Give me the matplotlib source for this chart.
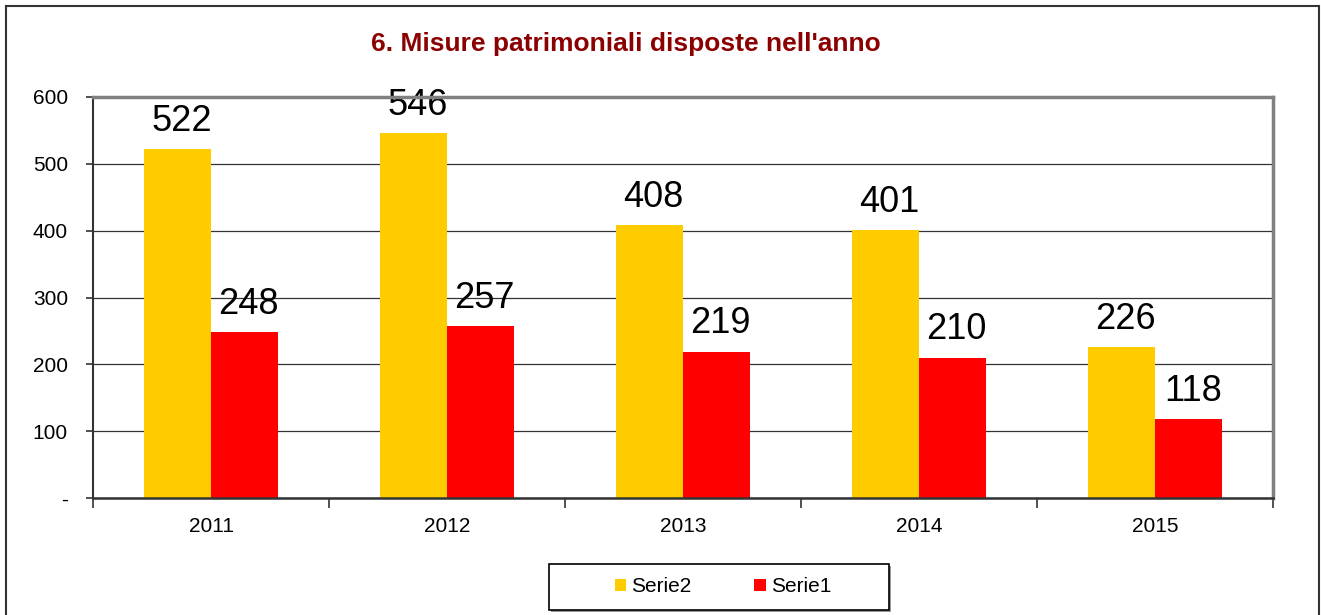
import matplotlib
matplotlib.use("Agg")
import matplotlib.pyplot as plt
from matplotlib.patches import Rectangle
import numpy as np

plt.rcParams['font.family'] = ['Liberation Sans', 'DejaVu Sans']

years = ["2011", "2012", "2013", "2014", "2015"]
serie2 = [522, 546, 408, 401, 226]
serie1 = [248, 257, 219, 210, 118]
yticks = [0, 100, 200, 300, 400, 500, 600]
ytick_labels = ["-", "100", "200", "300", "400", "500", "600"]

W, H = 1321, 615
fig = plt.figure(figsize=(W / 100, H / 100), dpi=100)
fig.patch.set_facecolor("white")

# outer border
fig.add_artist(Rectangle((6 / W, -0.05), (1319 - 6) / W, (615 - 6) / H + 0.05,
                         transform=fig.transFigure, fill=False,
                         edgecolor="#333333", linewidth=1.5))

ax = fig.add_axes([93 / W, (H - 498) / H, (1273 - 93) / W, (498 - 97) / H])
x = np.arange(len(years))
bw = 0.284
b2 = ax.bar(x - bw / 2, serie2, bw, color="#FFCC00", label="Serie2", zorder=3)
b1 = ax.bar(x + bw / 2, serie1, bw, color="#FF0000", label="Serie1", zorder=3)

for rects, vals in ((b2, serie2), (b1, serie1)):
    for r, v in zip(rects, vals):
        ax.annotate(str(v), (r.get_x() + r.get_width() / 2, v),
                    xytext=(3, 7.5), textcoords="offset points",
                    ha="center", va="bottom", fontsize=26, color="black")

ax.set_xlim(-0.5, len(years) - 0.5)
ax.set_ylim(0, 600)
ax.set_yticks(yticks)
ax.set_yticklabels(ytick_labels, fontsize=15)
ax.set_xticks(x)
ax.set_xticklabels(years, fontsize=15)
ax.set_xticks(np.arange(-0.5, len(years)), minor=True)
ax.tick_params(axis="x", which="major", length=0, pad=14)
ax.tick_params(axis="x", which="minor", length=7, width=1.2, color="#333333", direction="out")
ax.tick_params(axis="y", length=5, width=1.2, color="#333333", pad=13)
ax.grid(axis="y", color="#333333", linewidth=0.9, zorder=0)

ax.spines["left"].set_color("#333333")
ax.spines["left"].set_linewidth(1.5)
ax.spines["bottom"].set_color("#333333")
ax.spines["bottom"].set_linewidth(1.8)
ax.spines["top"].set_color("#808080")
ax.spines["top"].set_linewidth(2.5)
ax.spines["right"].set_color("#808080")
ax.spines["right"].set_linewidth(2.5)
for s in ax.spines.values():
    s.set_zorder(4)

fig.text(626 / W, 1 - 44 / H, "6. Misure patrimoniali disposte nell'anno",
         ha="center", va="center", fontsize=19, fontweight="bold", color="#8B0000")

# legend box with shadow
lx0, ly0, lx1, ly1 = 549, 564, 889, 610
fig.add_artist(Rectangle(((lx0 + 2) / W, 1 - (ly1 + 2) / H), (lx1 - lx0) / W, (ly1 - ly0) / H,
                         transform=fig.transFigure, facecolor="#999999", edgecolor="none"))
fig.add_artist(Rectangle((lx0 / W, 1 - ly1 / H), (lx1 - lx0) / W, (ly1 - ly0) / H,
                         transform=fig.transFigure, facecolor="white", edgecolor="black", linewidth=1.2))
leg = fig.legend(handles=[b2, b1], labels=["Serie2", "Serie1"], loc="center",
                 bbox_to_anchor=((lx0 + lx1) / 2 / W + 0.003, 1 - (ly0 + ly1) / 2 / H),
                 ncol=2, frameon=False, fontsize=15, handlelength=0.55, handleheight=0.55,
                 handletextpad=0.25, columnspacing=3.0)

fig.savefig("out.png", dpi=100)
